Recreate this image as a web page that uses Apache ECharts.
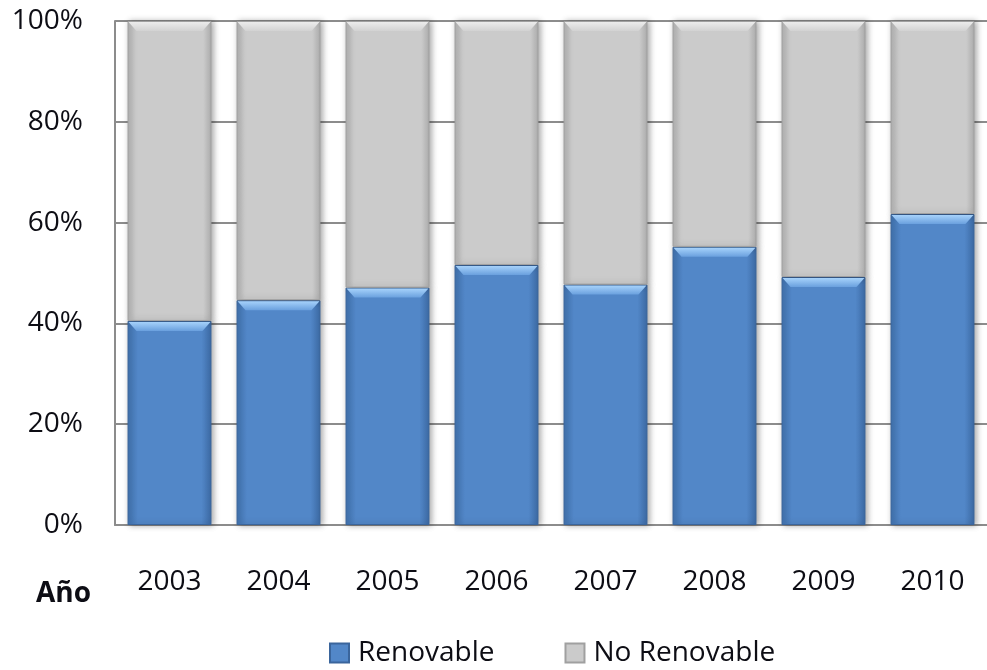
<!DOCTYPE html>
<html>
<head>
<meta charset="utf-8">
<script src="https://cdn.jsdelivr.net/npm/echarts@6/dist/echarts.min.js"></script>
<style>
  html, body { margin: 0; padding: 0; background: #fff; }
  #chart { width: 987px; height: 670px; }
</style>
</head>
<body>
<div id="chart"></div>
<script>
// Share of electricity generation by source, per year
const years = ['2003', '2004', '2005', '2006', '2007', '2008', '2009', '2010'];
const renovable = [40.5, 44.6, 47.1, 51.6, 47.7, 55.2, 49.2, 61.7];
const noRenovable = [59.5, 55.4, 52.9, 48.4, 52.3, 44.8, 50.8, 38.3];
const yTicks = [0, 20, 40, 60, 80, 100];

const FONT = '"Open Sans", "Noto Sans", sans-serif';
const TEXT = '#0d0d14';
const BAR_RATIO = 0.77;

const blueFill = new echarts.graphic.LinearGradient(0, 0, 1, 0, [
  { offset: 0, color: '#4173b0' },
  { offset: 0.12, color: '#5287c8' },
  { offset: 0.88, color: '#5287c8' },
  { offset: 1, color: '#3d6ba6' }
]);
const grayFill = new echarts.graphic.LinearGradient(0, 0, 1, 0, [
  { offset: 0, color: '#b4b4b4' },
  { offset: 0.1, color: '#cbcbcb' },
  { offset: 0.9, color: '#cbcbcb' },
  { offset: 1, color: '#b0b0b0' }
]);

// Bevelled top edge of each stacked segment, positioned from the data values
const bevelData = years.map((_, i) => [i, renovable[i], renovable[i] + noRenovable[i]]);

function renderBevel(params, api) {
  const i = api.value(0);
  const pLow = api.coord([i, api.value(1)]);
  const pHigh = api.coord([i, api.value(2)]);
  const w = api.size([1, 0])[0] * BAR_RATIO;
  const cx = pLow[0];
  const x0 = cx - w / 2, x1 = cx + w / 2;
  const d = 9;
  const trap = (y, c0, c1) => ({
    type: 'polygon',
    shape: { points: [[x0 + 1, y], [x1 - 1, y], [x1 - d, y + d], [x0 + d, y + d]] },
    style: { fill: new echarts.graphic.LinearGradient(0, 0, 0, 1, [
      { offset: 0, color: c0 }, { offset: 1, color: c1 }
    ]) }
  });
  return {
    type: 'group',
    children: [
      trap(pLow[1] + 1, '#a6d2fb', '#6aa0de'),
      trap(pHigh[1] + 1, '#ececec', '#d2d2d2')
    ]
  };
}

const chart = echarts.init(document.getElementById('chart'), null, { renderer: 'canvas' });

chart.setOption({
  backgroundColor: '#ffffff',
  animation: false,
  grid: { left: 115, right: -12, top: 21, bottom: 145, containLabel: false },
  legend: {
    top: 634,
    left: 324,
    itemWidth: 19,
    itemHeight: 19,
    itemGap: 70,
    icon: 'rect',
    textStyle: { fontFamily: FONT, fontSize: 28, color: TEXT, padding: [0, 0, 0, 4] },
    data: ['Renovable', 'No Renovable']
  },
  xAxis: {
    type: 'category',
    data: years,
    axisLine: { show: true, lineStyle: { color: '#8c8c8c', width: 2 } },
    axisTick: { show: false },
    axisLabel: {
      fontFamily: FONT, fontSize: 28, color: TEXT, margin: 43
    }
  },
  yAxis: {
    type: 'value',
    min: 0,
    max: 100,
    interval: 20,
    axisLine: { show: true, lineStyle: { color: '#8c8c8c', width: 2 } },
    axisTick: { show: false },
    splitLine: { show: true, lineStyle: { color: '#8c8c8c', width: 2 } },
    axisLabel: {
      fontFamily: FONT, fontSize: 28, color: TEXT, margin: 32,
      formatter: v => (yTicks.includes(v) ? v + '%' : '')
    }
  },
  graphic: [{
    type: 'text',
    left: 36,
    top: 580,
    style: { text: 'Año', fontFamily: FONT, fontSize: 28, fontWeight: 'bold', fill: TEXT }
  }],
  series: [
    {
      name: 'Renovable',
      type: 'bar',
      stack: 'total',
      barWidth: '77%',
      data: renovable,
      itemStyle: {
        color: blueFill,
        borderColor: '#3a659c',
        borderWidth: 1,
        shadowColor: 'rgba(0,0,0,0.35)',
        shadowBlur: 6,
        shadowOffsetX: 2
      }
    },
    {
      name: 'No Renovable',
      type: 'bar',
      stack: 'total',
      barWidth: '77%',
      data: noRenovable,
      itemStyle: {
        color: grayFill,
        borderColor: '#a0a0a0',
        borderWidth: 1,
        shadowColor: 'rgba(0,0,0,0.35)',
        shadowBlur: 6,
        shadowOffsetX: 2
      }
    },
    {
      name: 'bevel',
      type: 'custom',
      renderItem: renderBevel,
      data: bevelData,
      z: 5,
      silent: true
    }
  ]
});
</script>
</body>
</html>
